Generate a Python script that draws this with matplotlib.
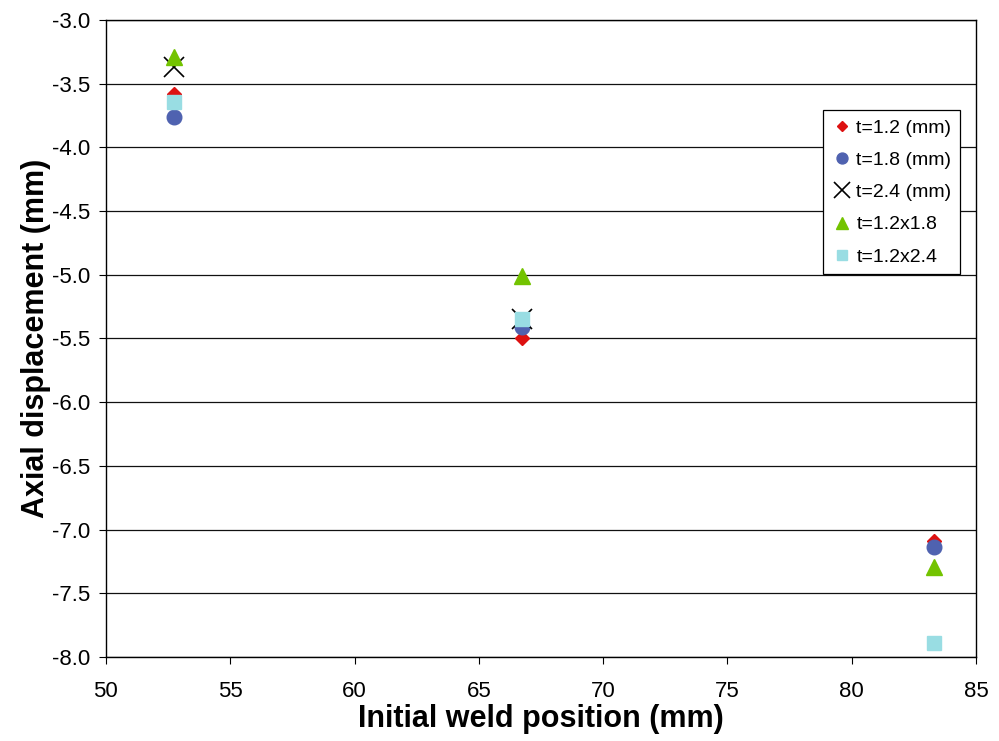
import numpy as np
import matplotlib
matplotlib.use("Agg")
import matplotlib.pyplot as plt

plt.rcParams["font.family"] = ["Liberation Sans", "DejaVu Sans"]

weld_pos = [52.75, 66.75, 83.3]
t12 = [-3.58, -5.50, -7.09]
t18 = [-3.76, -5.41, -7.14]
t24 = [-3.37, -5.35, np.nan]
t12x18 = [-3.29, -5.01, -7.29]
t12x24 = [-3.64, -5.35, -7.89]

fig = plt.figure(figsize=(9.99, 7.41), dpi=100)
ax = fig.add_axes([0.106, 0.1134, 0.871, 0.8596])

ax.plot(weld_pos, t12, "D", color="#dd1111", markersize=7, label="t=1.2 (mm)", zorder=3)
ax.plot(weld_pos, t18, "o", color="#4f62b0", markersize=10.5, label="t=1.8 (mm)", zorder=3)
ax.plot(weld_pos, t24, "x", color="black", markersize=15, markeredgewidth=1.2,
        label="t=2.4 (mm)", zorder=3)
ax.plot(weld_pos, t12x18, "^", color="#73c300", markersize=11, label="t=1.2x1.8", zorder=4)
ax.plot(weld_pos, t12x24, "s", color="#99dde3", markersize=10.5, label="t=1.2x2.4", zorder=4)

ax.set_xlim(50, 85)
ax.set_ylim(-8.0, -3.0)
ax.set_xticks(np.arange(50, 86, 5))
ax.set_yticks(np.arange(-8.0, -2.99, 0.5))
ax.yaxis.set_major_formatter(matplotlib.ticker.FormatStrFormatter("%.1f"))
ax.tick_params(labelsize=16, direction="out", length=5, pad=6)
ax.tick_params(axis="x", pad=12)
ax.yaxis.grid(True, color="#111111", linewidth=0.9)
ax.set_axisbelow(True)
for s in ax.spines.values():
    s.set_linewidth(1.0)

ax.set_xlabel("Initial weld position (mm)", fontsize=22, fontweight="bold", labelpad=2)
ax.set_ylabel("Axial displacement (mm)", fontsize=22, fontweight="bold", labelpad=1)

leg = ax.legend(loc="upper right", bbox_to_anchor=(0.982, 0.858), fontsize=14,
                frameon=True, fancybox=False, edgecolor="black", framealpha=1,
                handletextpad=0.25, borderpad=0.45, labelspacing=0.75,
                handlelength=1.0, borderaxespad=0, markerscale=0.75)
leg.get_frame().set_linewidth(0.9)

fig.savefig("out.png", dpi=100, facecolor="white")
